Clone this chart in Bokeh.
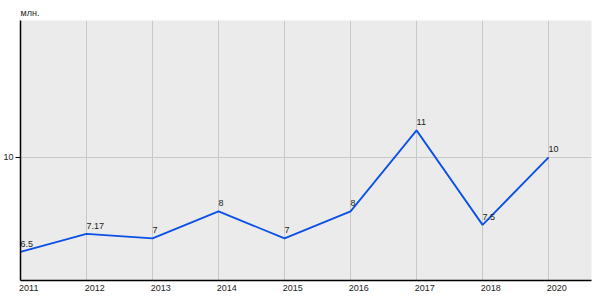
from bokeh.plotting import figure
from bokeh.models import FixedTicker, ColumnDataSource, Range1d
from bokeh.core.properties import value
from bokeh.embed import file_html
from bokeh.resources import INLINE

years = ["2011", "2012", "2013", "2014", "2015", "2016", "2017", "2018", "2020"]
values = [6.5, 7.17, 7, 8, 7, 8, 11, 7.5, 10]
value_labels = ["6.5", "7.17", "7", "8", "7", "8", "11", "7.5", "10"]
y_ticks = [10]
unit_label = "млн."

xs = list(range(len(years)))
src = ColumnDataSource(dict(x=xs, y=values, t=value_labels))

FONT = "Liberation Sans"
LBL_SHIFT = 0.125  # tick labels in the reference start at the grid line

p = figure(width=600, height=300, output_backend="svg", toolbar_location=None,
           x_range=Range1d(0, 8.65), y_range=Range1d(5.44, 15.07),
           min_border_left=20, min_border_right=9, min_border_top=20, min_border_bottom=20,
           background_fill_color="#ebebeb", border_fill_color="white")
p.outline_line_color = None

p.title.text = unit_label
p.title.text_font = FONT
p.title.text_font_size = "9px"
p.title.text_font_style = "normal"
p.title.text_color = "#222222"
p.title.align = "left"
p.title.standoff = 5

p.line("x", "y", source=src, line_color="#0a4fe6", line_width=1.8)
p.text("x", "y", text="t", source=src, text_align="left", text_baseline="bottom",
       y_offset=-5, text_font_size="9px", text_color="#222222", text_font=value(FONT))

label_ticks = [i + LBL_SHIFT for i in xs]
p.xaxis.ticker = FixedTicker(ticks=label_ticks)
p.xaxis.major_label_overrides = {t: y for t, y in zip(label_ticks, years)}
p.xaxis.major_tick_out = 0
p.xaxis.major_tick_in = 0
p.xaxis.minor_tick_out = 0
p.xaxis.minor_tick_in = 0
p.xaxis.axis_line_color = "black"
p.xaxis.axis_line_width = 1.5
p.xaxis.major_label_standoff = 4
p.xaxis.major_label_text_font_size = "9px"
p.xaxis.major_label_text_font = FONT
p.xaxis.major_label_text_color = "#222222"

p.yaxis.ticker = FixedTicker(ticks=y_ticks)
p.yaxis.major_tick_out = 5
p.yaxis.major_tick_in = 0
p.yaxis.minor_tick_out = 0
p.yaxis.minor_tick_in = 0
p.yaxis.major_tick_line_color = "black"
p.yaxis.axis_line_color = "black"
p.yaxis.axis_line_width = 1.5
p.yaxis.major_label_standoff = 2
p.yaxis.major_label_text_font_size = "9px"
p.yaxis.major_label_text_font = FONT
p.yaxis.major_label_text_color = "#222222"

p.xgrid.ticker = FixedTicker(ticks=xs)
p.xgrid.grid_line_color = "#c8c8c8"
p.ygrid.ticker = FixedTicker(ticks=y_ticks)
p.ygrid.grid_line_color = "#c8c8c8"

open("out.html", "w").write(file_html(p, INLINE))
